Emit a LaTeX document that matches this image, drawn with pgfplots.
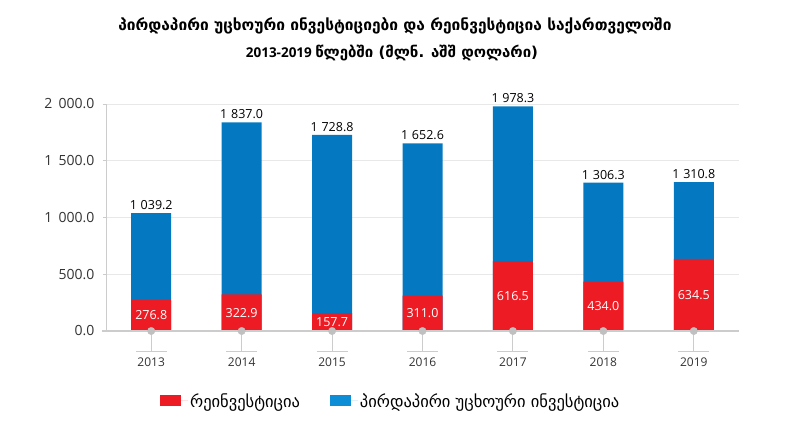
\documentclass[border=0pt]{standalone}
\usepackage{pgfplots}
\usepackage{pgfplotstable}
\pgfplotsset{compat=1.18}
\usepackage{fontspec}
\setmainfont{Open Sans}
\newfontfamily\geo{DejaVu Sans}
\definecolor{redr}{HTML}{ED1C24}
\definecolor{blueb}{HTML}{0479C1}
\definecolor{legblue}{HTML}{0C8DD6}
\definecolor{gridc}{HTML}{E8E8E8}
\definecolor{axc}{HTML}{CCCCCC}
\definecolor{dotc}{HTML}{C0C0C0}
\definecolor{txt}{HTML}{333333}

\pgfplotstableread{
x rein total
0 276.8 1039.2
1 322.9 1837.0
2 157.7 1728.8
3 311.0 1652.6
4 616.5 1978.3
5 434.0 1306.3
6 634.5 1310.8
}\data

\begin{document}
\begin{tikzpicture}
\path[use as bounding box] (-106pt,-91pt) rectangle (681pt,331pt);
\begin{axis}[
  at={(0,0)}, anchor=south west,
  scale only axis, width=633pt, height=227pt,
  xmin=-0.5, xmax=6.5, ymin=0, ymax=2000,
  clip=false,
  axis line style={draw=none},
  xtick=data, xticklabels={2013,2014,2015,2016,2017,2018,2019},
  xtick style={draw=none},
  xticklabel style={font=\fontsize{12}{14}\selectfont, text=txt, yshift=-23pt},
  ytick={0,500,1000,1500,2000},
  ytick style={draw=none},
  ymajorgrids, grid style={gridc, line width=0.8pt},
  scaled y ticks=false,
  /pgf/number format/assume math mode=true,
  yticklabel style={font=\fontsize{14}{16}\selectfont, text=txt, xshift=-8pt,
    /pgf/number format/.cd, fixed, fixed zerofill, precision=1, 1000 sep={\hspace{0.45em}}},
  legend style={at={(0.4497,-0.308)}, anchor=center, draw=none, fill=none,
    legend columns=2, font=\geo\fontsize{16.5}{18}\selectfont,
    /tikz/every even column/.append style={column sep=28pt}},
  legend image code/.code={\fill[#1] (0pt,-5.5pt) rectangle (21pt,5.5pt); \path (0pt,0pt) -- (28pt,0pt);},
]
\draw[axc, line width=0.8pt] (axis cs:-0.5,0) -- (axis cs:-0.5,2000);
\pgfplotsinvokeforeach{500,1000,1500,2000}{
  \draw[axc, line width=0.8pt] ([xshift=-3pt]axis cs:-0.5,#1) -- (axis cs:-0.5,#1);
}
\addplot[ybar, bar width=40pt, bar shift=0pt, fill=blueb, draw=none, forget plot,
  nodes near coords, point meta=y,
  every node near coord/.append style={font=\fontsize{12.5}{14}\selectfont, text=black,
    /pgf/number format/.cd, fixed, fixed zerofill, precision=1, 1000 sep={\hspace{0.3em}}}]
  table[x=x, y=total] {\data};
\addplot[ybar, bar width=40pt, bar shift=0pt, fill=redr, draw=none, forget plot,
  nodes near coords, point meta=y,
  visualization depends on=y \as \rawy,
  every node near coord/.append style={font=\fontsize{12.5}{14}\selectfont, text=white,
    anchor=center, shift={(axis direction cs:0,-\rawy/2)},
    /pgf/number format/.cd, fixed, fixed zerofill, precision=1, 1000 sep={\hspace{0.3em}}}]
  table[x=x, y=rein] {\data};
\addlegendimage{fill=redr, draw=none}
\addlegendentry{რეინვესტიცია}
\addlegendimage{fill=legblue, draw=none}
\addlegendentry{პირდაპირი უცხოური ინვესტიცია}
\draw[axc, line width=1.6pt] ([xshift=-4pt]axis cs:-0.5,0) -- (axis cs:6.5,0);
\pgfplotsinvokeforeach{0,...,6}{
  \draw[axc, line width=1pt] (axis cs:#1,0) -- ([yshift=-21pt]axis cs:#1,0);
  \draw[axc, line width=1pt] ([xshift=-15.5pt,yshift=-21pt]axis cs:#1,0) -- ([xshift=15.5pt,yshift=-21pt]axis cs:#1,0);
}
\addplot[only marks, mark=*, mark size=3.7pt, color=dotc, forget plot]
  coordinates {(0,0) (1,0) (2,0) (3,0) (4,0) (5,0) (6,0)};
\end{axis}
\node[font=\geo\bfseries\fontsize{15.5}{17}\selectfont] at (289pt,305pt) {პირდაპირი უცხოური ინვესტიციები და რეინვესტიცია საქართველოში};
\node[font=\bfseries\fontsize{13.5}{15}\selectfont] at (286pt,278pt) {2013-2019 {\geo\fontsize{15}{17}\selectfont წლებში (მლნ. აშშ დოლარი)}};
\end{tikzpicture}
\end{document}
